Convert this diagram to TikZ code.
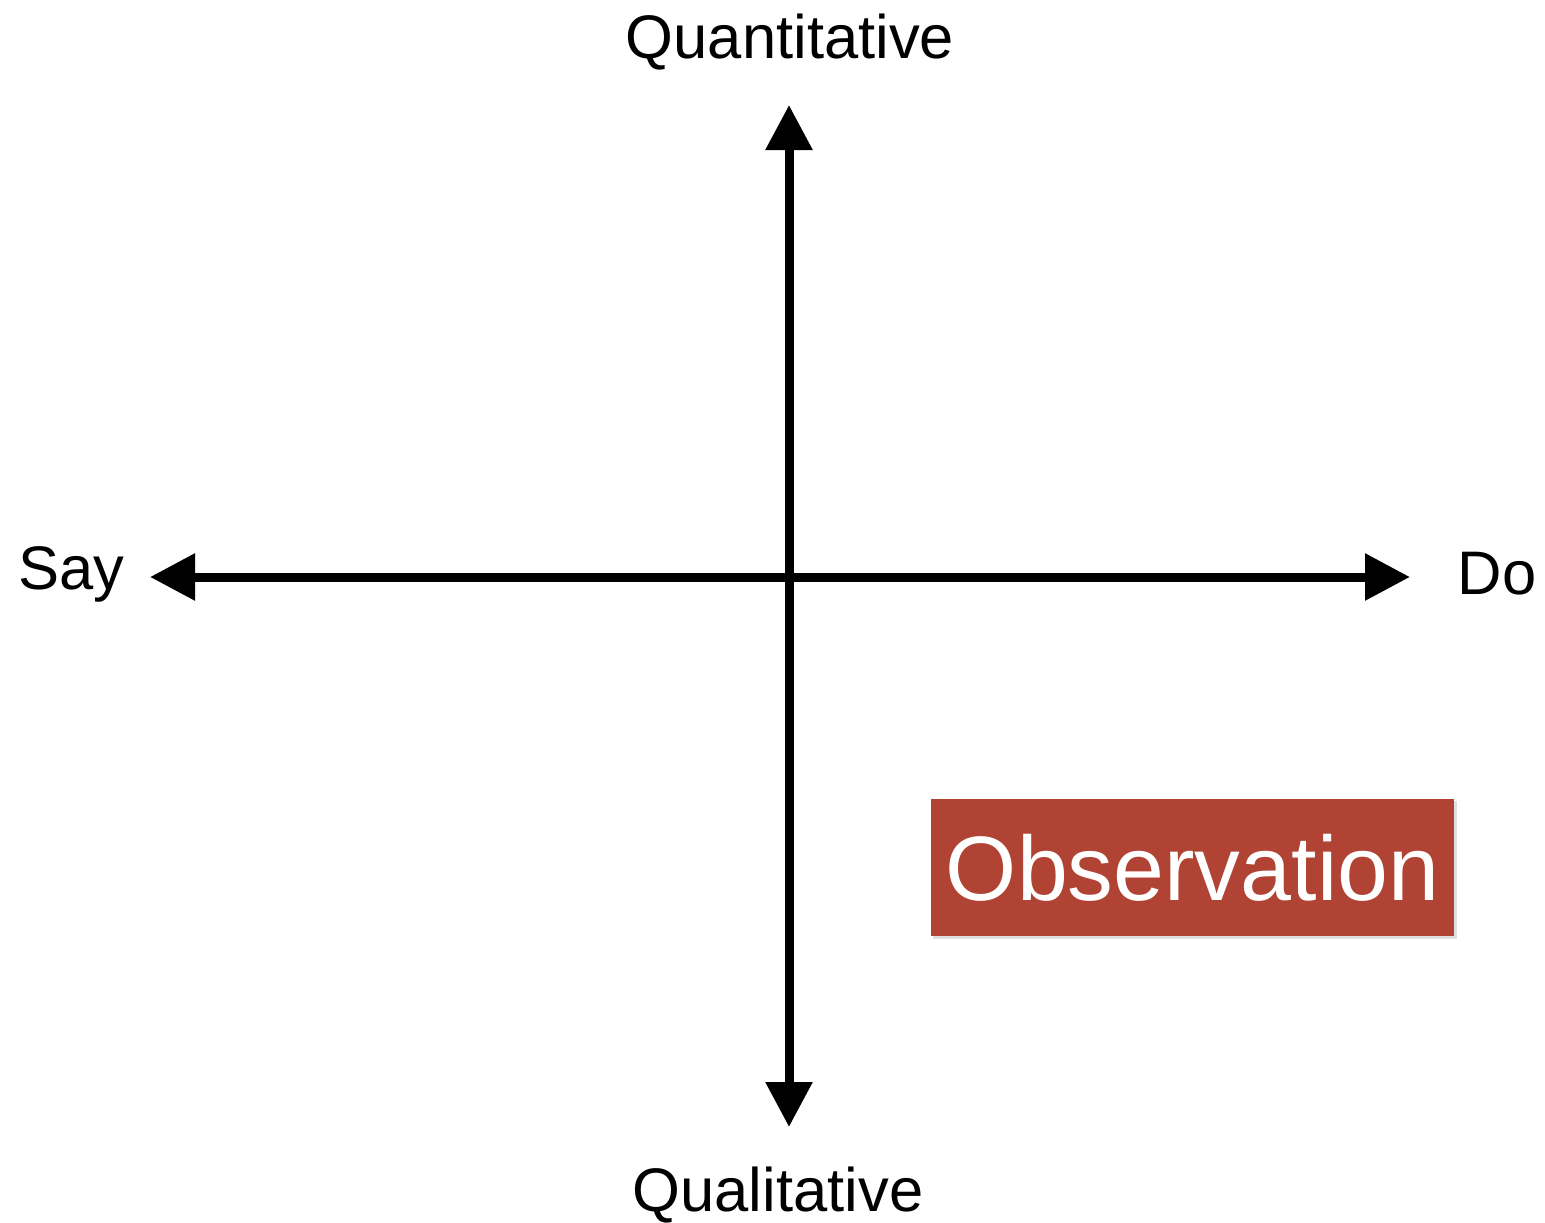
\documentclass[tikz,border=0pt]{standalone}
\usepackage{fontspec}
\setmainfont{Liberation Sans}
\usetikzlibrary{arrows.meta}
\definecolor{obsred}{HTML}{B04333}
\tikzset{
  axis/.style={line width=9pt, {Triangle[length=45pt,width=45pt]}-{Triangle[length=45pt,width=45pt]}},
  axlabel/.style={font=\fontsize{61.5}{64}\selectfont, text=black, inner sep=0pt},
  obsbox/.style={fill=obsred, text=white, font=\fontsize{91.5}{94}\selectfont, minimum width=523pt, minimum height=137pt, inner sep=0pt}
}
\begin{document}
\begin{tikzpicture}[x=1pt,y=-1pt]
\useasboundingbox[fill=white] (0,0) rectangle (1545,1223);
\coordinate (top) at (789,105);
\coordinate (bot) at (789,1127);
\coordinate (left) at (150,577);
\coordinate (right) at (1410,577);
\draw[axis] (left) -- (right);
\draw[axis] (bot) -- (top);
\node[axlabel] (quant) at (790,42) {Quantitative};
\node[axlabel] (qual) at (778,1195) {Qualitative};
\node[axlabel] (say) at (71,574) {Say};
\node[axlabel] (do) at (1497,574) {Do};
\fill[black!12] (933,801) rectangle (1457,939);
\node[obsbox] (obs) at (1192.5,867.5) {Observation};
\end{tikzpicture}
\end{document}
